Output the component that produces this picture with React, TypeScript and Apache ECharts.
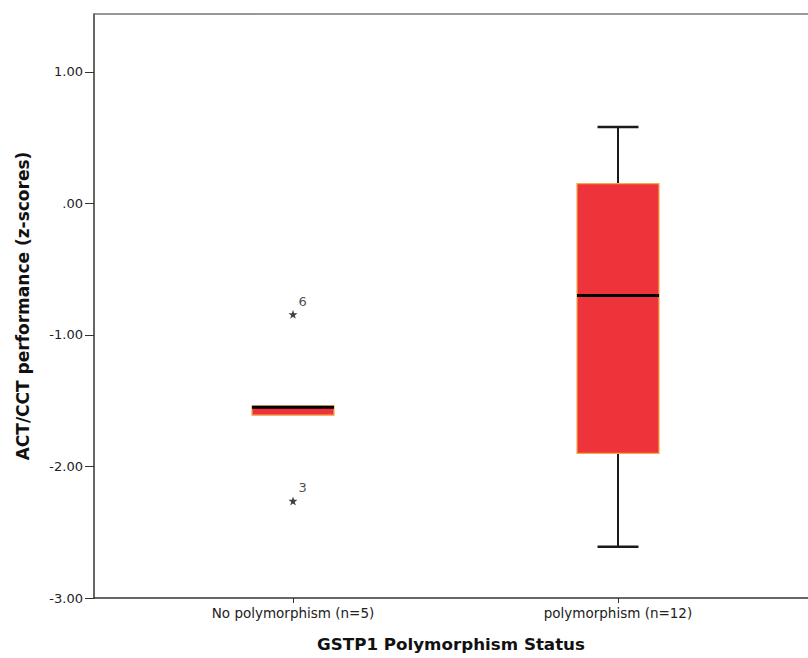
import React, { useEffect, useRef } from "react";
import * as echarts from "echarts";

const categories = ["No polymorphism (n=5)", "polymorphism (n=12)"];
const groupIndex = [0, 1];
const whiskerLow = [-1.61, -2.61];
const quartile1 = [-1.61, -1.9];
const medians = [-1.55, -0.7];
const quartile3 = [-1.54, 0.15];
const whiskerHigh = [-1.54, 0.58];

const outlierGroup = [0, 0];
const outlierValues = [-0.843, -2.262];
const outlierCases = ["6", "3"];

const yTicks = [-3, -2, -1, 0, 1];
const xTicks = [0, 1];

const STAR =
  "path://M0,-10 L2.35,-3.24 L9.51,-3.09 L3.8,1.24 L5.88,8.09 L0,4 L-5.88,8.09 L-3.8,1.24 L-9.51,-3.09 L-2.35,-3.24 Z";

function fmtY(v: number): string {
  if (Math.abs(v) < 1e-9) return ".00";
  return v.toFixed(2);
}

export default function App() {
  const ref = useRef<HTMLDivElement>(null);
  useEffect(() => {
    if (!ref.current) return;
    const chart = echarts.init(ref.current, undefined, { renderer: "svg" });
    const boxData = groupIndex.map((g, i) => [
      g,
      whiskerLow[i],
      quartile1[i],
      medians[i],
      quartile3[i],
      whiskerHigh[i],
    ]);
    const outData = outlierGroup.map((g, i) => ({
      value: [g, outlierValues[i]],
      name: outlierCases[i],
    }));
    const font = "DejaVu Sans";
    const xMin = -0.6123;
    const xMax = 1.5846;
    chart.setOption({
      animation: false,
      backgroundColor: "#ffffff",
      grid: {
        left: 94,
        top: 14,
        right: 0,
        bottom: 60,
        show: false,
        containLabel: false,
      },
      xAxis: [
        {
          type: "value",
          min: xMin,
          max: xMax,
          splitLine: { show: false },
          axisLine: { show: true, onZero: false, lineStyle: { color: "#333", width: 1.5 } },
          axisTick: { show: true, customValues: xTicks, length: 5, lineStyle: { color: "#333" } },
          axisLabel: {
            customValues: xTicks,
            formatter: (v: number) => categories[Math.round(v)] ?? "",
            color: "#222",
            fontFamily: font,
            fontSize: 13.5,
            margin: 8,
          },
          name: "GSTP1 Polymorphism Status",
          nameLocation: "middle",
          nameGap: 37,
          nameTextStyle: { fontFamily: font, fontWeight: "bold", fontSize: 16.7, color: "#111" },
        },
        {
          type: "value",
          position: "top",
          min: xMin,
          max: xMax,
          splitLine: { show: false },
          axisLine: { show: true, onZero: false, lineStyle: { color: "#777", width: 1.5 } },
          axisTick: { show: false },
          axisLabel: { show: false },
        },
      ],
      yAxis: {
        type: "value",
        min: -3,
        max: 1.44,
        splitLine: { show: false },
        axisLine: { show: true, onZero: false, lineStyle: { color: "#333", width: 1.5 } },
        axisTick: { show: true, customValues: yTicks, length: 9, lineStyle: { color: "#333" } },
        axisLabel: {
          customValues: yTicks,
          formatter: fmtY,
          color: "#222",
          fontFamily: font,
          fontSize: 13,
          margin: 11,
        },
        name: "ACT/CCT performance (z-scores)",
        nameLocation: "middle",
        nameGap: 63,
        nameRotate: 90,
        nameTextStyle: { fontFamily: font, fontWeight: "bold", fontSize: 17, color: "#111" },
      },
      series: [
        {
          type: "custom",
          data: boxData,
          encode: { x: 0, y: [1, 2, 3, 4, 5] },
          renderItem: (params: any, api: any) => {
            const x = api.value(0);
            const lo = api.value(1);
            const q1 = api.value(2);
            const med = api.value(3);
            const q3 = api.value(4);
            const hi = api.value(5);
            const pLo = api.coord([x, lo]);
            const pQ1 = api.coord([x, q1]);
            const pMed = api.coord([x, med]);
            const pQ3 = api.coord([x, q3]);
            const pHi = api.coord([x, hi]);
            const cx = pMed[0];
            const half = 41;
            const capHalf = 20.5;
            const children: any[] = [];
            const lineStyle = { stroke: "#1a1a1a", lineWidth: 2 };
            if (hi > q3) {
              children.push({ type: "line", shape: { x1: cx, y1: pQ3[1], x2: cx, y2: pHi[1] }, style: lineStyle });
              children.push({ type: "line", shape: { x1: cx - capHalf, y1: pHi[1], x2: cx + capHalf, y2: pHi[1] }, style: { stroke: "#1a1a1a", lineWidth: 2.5 } });
            }
            if (lo < q1) {
              children.push({ type: "line", shape: { x1: cx, y1: pQ1[1], x2: cx, y2: pLo[1] }, style: lineStyle });
              children.push({ type: "line", shape: { x1: cx - capHalf, y1: pLo[1], x2: cx + capHalf, y2: pLo[1] }, style: { stroke: "#1a1a1a", lineWidth: 2.5 } });
            }
            children.push({
              type: "rect",
              shape: { x: cx - half, y: pQ3[1], width: half * 2, height: pQ1[1] - pQ3[1] },
              style: { fill: "#EF333B", stroke: "#F5A84A", lineWidth: 1.2 },
            });
            children.push({
              type: "line",
              shape: { x1: cx - half, y1: pMed[1], x2: cx + half, y2: pMed[1] },
              style: { stroke: "#000000", lineWidth: 3 },
            });
            return { type: "group", children };
          },
          z: 2,
        },
        {
          type: "scatter",
          data: outData,
          symbol: STAR,
          symbolSize: 9,
          itemStyle: { color: "#111" },
          label: {
            show: true,
            formatter: (p: any) => p.name,
            position: [10, -15],
            fontFamily: font,
            fontSize: 13,
            color: "#222",
          },
          z: 3,
        },
      ],
    });
    return () => chart.dispose();
  }, []);
  return (
    <div
      ref={ref}
      style={{ position: "fixed", left: 0, top: 0, width: 808, height: 658 }}
    />
  );
}
